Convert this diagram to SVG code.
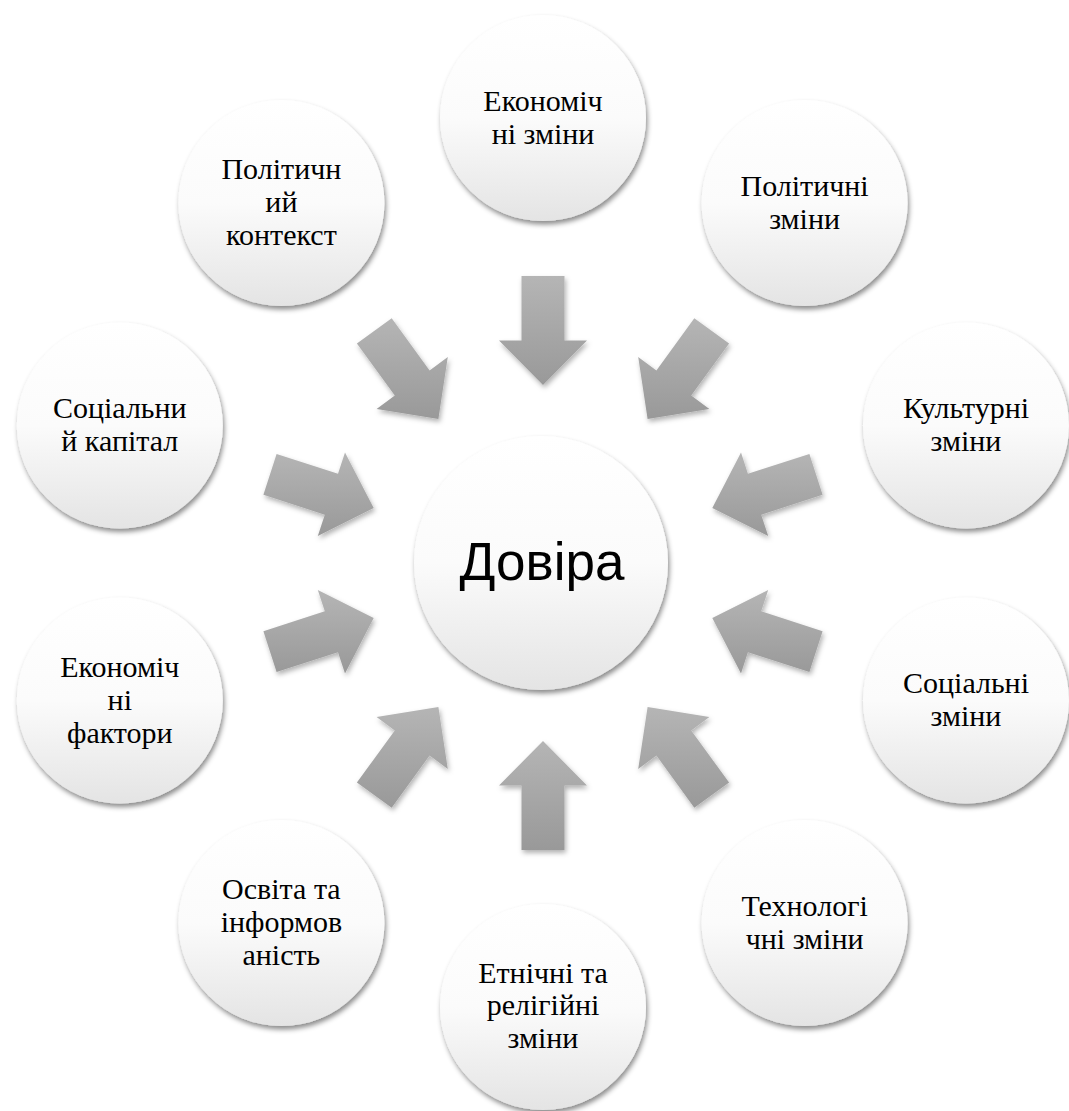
<svg xmlns="http://www.w3.org/2000/svg" width="1069" height="1111" viewBox="0 0 1069 1111">
<defs>
<style>
.node{fill:url(#cg);filter:url(#sh)}
.lbl{font-family:"Liberation Serif","Times New Roman",serif;font-size:30px;fill:#000;text-anchor:middle}
.main{font-family:"Liberation Sans",Arial,sans-serif;font-size:53px;fill:#000;text-anchor:middle}
.arr{fill:url(#ag);filter:url(#ash)}
</style>
<linearGradient id="cg" x1="0" y1="0" x2="0" y2="1">
<stop offset="0" stop-color="#ffffff"/>
<stop offset="0.5" stop-color="#fbfbfb"/>
<stop offset="1" stop-color="#e4e4e4"/>
</linearGradient>
<linearGradient id="ag" x1="0" y1="0" x2="0" y2="1">
<stop offset="0" stop-color="#b5b5b5"/>
<stop offset="1" stop-color="#999999"/>
</linearGradient>
<filter id="sh" x="-20%" y="-20%" width="140%" height="140%">
<feDropShadow dx="1.5" dy="3.5" stdDeviation="2.5" flood-color="#000" flood-opacity="0.45"/>
</filter>
<filter id="ash" x="-20%" y="-20%" width="140%" height="140%">
<feDropShadow dx="1.5" dy="3" stdDeviation="2.5" flood-color="#000" flood-opacity="0.3"/>
</filter>
</defs>
<rect width="1069" height="1111" fill="#ffffff"/>
<g id="connectors">
<polygon class="arr" points="564.5,276 564.5,340.5 587,340.5 543,385 499,340.5 521.5,340.5 521.5,276"/>
<polygon class="arr" points="729.1,343.5 691.2,395.6 709.4,408.9 647.6,419.0 638.2,357.1 656.4,370.4 694.3,318.2"/>
<polygon class="arr" points="822.6,494.8 761.2,514.7 768.2,536.1 712.3,508.0 741.0,452.4 747.9,473.8 809.4,453.9"/>
<polygon class="arr" points="809.4,672.1 747.9,652.2 741.0,673.6 712.3,618.0 768.2,589.9 761.2,611.3 822.6,631.2"/>
<polygon class="arr" points="694.3,807.8 656.4,755.6 638.2,768.9 647.6,707.0 709.4,717.1 691.2,730.4 729.1,782.6"/>
<polygon class="arr" points="521.5,850 521.5,785.5 499,785.5 543,741 587,785.5 564.5,785.5 564.5,850"/>
<polygon class="arr" points="356.9,782.6 394.8,730.4 376.6,717.1 438.4,707.0 447.8,768.9 429.6,755.6 391.7,807.8"/>
<polygon class="arr" points="263.4,631.2 324.8,611.3 317.8,589.9 373.7,618.0 345.0,673.6 338.0,652.2 276.6,672.1"/>
<polygon class="arr" points="276.6,453.9 338.0,473.8 345.0,452.4 373.7,508.0 317.8,536.1 324.8,514.7 263.4,494.8"/>
<polygon class="arr" points="391.7,318.2 429.6,370.4 447.8,357.1 438.4,419.0 376.6,408.9 394.8,395.6 356.9,343.5"/>
</g>
<g id="n-center">
<circle class="node" cx="541" cy="563" r="127"/>
<text class="main" x="542" y="580">Довіра</text>
</g>
<g id="n-econ-changes">
<circle class="node" cx="543" cy="118" r="103"/>
<text class="lbl" x="543" y="110.5">Економіч</text>
<text class="lbl" x="543" y="143.5">ні зміни</text>
</g>
<g id="n-pol-changes">
<circle class="node" cx="804.6" cy="203" r="103"/>
<text class="lbl" x="804.6" y="195.5">Політичні</text>
<text class="lbl" x="804.6" y="228.5">зміни</text>
</g>
<g id="n-cult-changes">
<circle class="node" cx="966" cy="425.5" r="103"/>
<text class="lbl" x="966" y="418">Культурні</text>
<text class="lbl" x="966" y="451">зміни</text>
</g>
<g id="n-soc-changes">
<circle class="node" cx="966" cy="700.5" r="103"/>
<text class="lbl" x="966" y="693">Соціальні</text>
<text class="lbl" x="966" y="726">зміни</text>
</g>
<g id="n-tech-changes">
<circle class="node" cx="804.6" cy="923" r="103"/>
<text class="lbl" x="804.6" y="915.5">Технологі</text>
<text class="lbl" x="804.6" y="948.5">чні зміни</text>
</g>
<g id="n-ethnic-changes">
<circle class="node" cx="543" cy="1007" r="103"/>
<text class="lbl" x="543" y="982.5">Етнічні та</text>
<text class="lbl" x="543" y="1015">релігійні</text>
<text class="lbl" x="543" y="1047.5">зміни</text>
</g>
<g id="n-education">
<circle class="node" cx="281.4" cy="923" r="103"/>
<text class="lbl" x="281.4" y="899">Освіта та</text>
<text class="lbl" x="281.4" y="932">інформов</text>
<text class="lbl" x="281.4" y="965">аність</text>
</g>
<g id="n-econ-factors">
<circle class="node" cx="119.8" cy="700.5" r="103"/>
<text class="lbl" x="119.8" y="676.5">Економіч</text>
<text class="lbl" x="119.8" y="709.5">ні</text>
<text class="lbl" x="119.8" y="742.5">фактори</text>
</g>
<g id="n-social-capital">
<circle class="node" cx="119.8" cy="425.5" r="103"/>
<text class="lbl" x="119.8" y="418">Соціальни</text>
<text class="lbl" x="119.8" y="451">й капітал</text>
</g>
<g id="n-pol-context">
<circle class="node" cx="281.4" cy="203" r="103"/>
<text class="lbl" x="281.4" y="179">Політичн</text>
<text class="lbl" x="281.4" y="212">ий</text>
<text class="lbl" x="281.4" y="245">контекст</text>
</g>
</svg>
